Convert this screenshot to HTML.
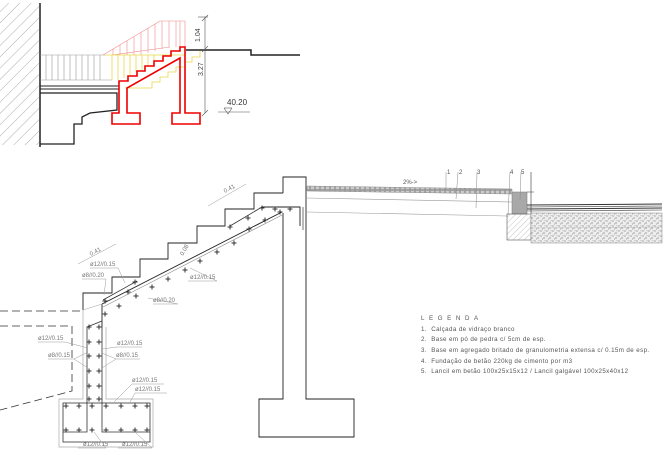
<!DOCTYPE html>
<html><head><meta charset="utf-8"><style>
html,body{margin:0;padding:0;background:#fff;width:665px;height:455px;overflow:hidden}
svg{display:block}
text{font-family:"Liberation Sans",sans-serif}
</style></head><body>
<svg width="665" height="455" viewBox="0 0 665 455" xmlns="http://www.w3.org/2000/svg">
<defs>
<pattern id="h" width="8" height="8" patternUnits="userSpaceOnUse" patternTransform="rotate(45)"><line x1="0" y1="0" x2="0" y2="8" stroke="#888" stroke-width="0.7"/></pattern>
<pattern id="h2" width="4" height="4" patternUnits="userSpaceOnUse" patternTransform="rotate(45)"><line x1="0" y1="0" x2="0" y2="4" stroke="#999" stroke-width="0.6"/></pattern>
<pattern id="g" width="6" height="5" patternUnits="userSpaceOnUse"><rect width="6" height="5" fill="#eee"/><circle cx="1" cy="1" r="0.6" fill="#777"/><circle cx="4" cy="3" r="0.6" fill="#666"/><circle cx="2.5" cy="4" r="0.5" fill="#888"/><circle cx="5" cy="0.8" r="0.5" fill="#999"/></pattern>
<pattern id="pv" width="5" height="5" patternUnits="userSpaceOnUse"><rect width="5" height="5" fill="#999"/><rect x="0.8" y="0.8" width="3.4" height="3.4" fill="#ccc"/></pattern>
<g id="p"><line x1="-2.5" y1="0" x2="2.5" y2="0" stroke="#333" stroke-width="1"/><line x1="0" y1="-2.5" x2="0" y2="2.5" stroke="#333" stroke-width="1"/></g>
</defs>

<rect x="0" y="3" width="39" height="142" fill="url(#h)"/>
<line x1="40" y1="3" x2="40" y2="147" stroke="#222" stroke-width="1.5"/>
<g stroke="#999" stroke-width="0.6">
<line x1="40" y1="55" x2="105" y2="55"/><line x1="40" y1="80" x2="112" y2="80"/>
<line x1="46" y1="55" x2="46" y2="80"/><line x1="52" y1="55" x2="52" y2="80"/><line x1="58" y1="55" x2="58" y2="80"/><line x1="64" y1="55" x2="64" y2="80"/><line x1="70" y1="55" x2="70" y2="80"/><line x1="76" y1="55" x2="76" y2="80"/><line x1="82" y1="55" x2="82" y2="80"/><line x1="88" y1="55" x2="88" y2="80"/><line x1="94" y1="55" x2="94" y2="80"/><line x1="100" y1="55" x2="100" y2="80"/>
</g>
<g stroke="#f08a8a" stroke-width="0.6" fill="none">
<polyline points="103,55 160,21 185,21 185,47"/><line x1="112" y1="55" x2="170" y2="47"/>
<line x1="113" y1="49" x2="113" y2="55"/><line x1="120" y1="45" x2="120" y2="55"/><line x1="127" y1="41" x2="127" y2="55"/><line x1="134" y1="37" x2="134" y2="55"/><line x1="141" y1="32" x2="141" y2="55"/><line x1="148" y1="28" x2="148" y2="53"/><line x1="155" y1="24" x2="155" y2="51"/><line x1="162" y1="21" x2="162" y2="49"/><line x1="169" y1="21" x2="169" y2="47"/><line x1="176" y1="21" x2="176" y2="47"/><line x1="180" y1="21" x2="180" y2="47"/>
</g>
<g stroke="#e8d84a" stroke-width="0.8" fill="none">
<polyline points="105,55 185,55"/>
<polyline points="125,88 152,88 152,82 160,82 160,77 168,77 168,72 176,72 176,67 185,67 185,62 192,62 192,57 200,57 200,51"/>
<line x1="112" y1="55" x2="112" y2="80"/><line x1="118" y1="55" x2="118" y2="80"/><line x1="124" y1="55" x2="124" y2="78"/><line x1="130" y1="55" x2="130" y2="75"/><line x1="136" y1="55" x2="136" y2="72"/><line x1="142" y1="55" x2="142" y2="70"/><line x1="148" y1="55" x2="148" y2="67"/><line x1="154" y1="55" x2="154" y2="64"/>
</g>
<g stroke="#222" stroke-width="1" fill="none">
<line x1="40" y1="86" x2="119" y2="86"/><line x1="40" y1="89" x2="119" y2="89"/>
<polyline points="40,93 117,93 117,110 90,113 82,117 82,124 74,124 74,144 40,144" stroke-width="1.3"/>
<polyline points="186,50 251,50 251,55 300,55" stroke-width="1.5"/>
</g>
<polyline fill="none" stroke="#e00" stroke-width="1.6" points="119,87 119,81 128,81 128,76 137,76 137,71 145,71 145,66 154,66 154,61 163,61 163,56 171,56 171,51 180,51 180,47 185,47 185,113 200,113 200,124 172,124 172,113 180,113 180,58 127,88 127,113 140,113 140,124 112,124 112,113 119,113 119,87"/>
<g stroke="#555" stroke-width="0.6" fill="none">
<line x1="205" y1="17" x2="205" y2="113"/><line x1="198" y1="17" x2="208" y2="17"/>
<line x1="202" y1="21" x2="208" y2="15"/><line x1="202" y1="52" x2="208" y2="46"/><line x1="202" y1="116" x2="208" y2="110"/>
<line x1="218" y1="112" x2="250" y2="112"/><polyline points="224,108 228,114 232,108"/><line x1="224" y1="108" x2="232" y2="108"/>
</g>
<text x="0" y="0" font-size="7" fill="#444" transform="translate(200,42) rotate(-90)">1.04</text>
<text x="0" y="0" font-size="7" fill="#444" transform="translate(203,76) rotate(-90)">3.27</text>
<text x="227" y="105" font-size="8" fill="#333">40.20</text>

<g stroke="#222" stroke-width="0.9" fill="none">
<polyline points="83,310 83,293 112,293 112,277 140,277 140,259 168,259 168,243 197,243 197,226 225,226 225,209 254,209 254,193 283,193"/>
<polyline points="283,193 283,177 306,177 306,399 354,399 354,437 259,437 259,399 283,399 283,213"/>
<line x1="102" y1="304" x2="282" y2="212"/>
<line x1="103" y1="307" x2="282" y2="215" stroke="#888" stroke-width="0.6"/>
<polyline points="102,304 102,327"/>
<polyline points="262,207 300,207 300,226"/>
<line x1="303" y1="207" x2="303" y2="230" stroke="#666"/>
</g>
<g fill="none">
<polyline points="83,310 83,399 59,399 59,447 153,447 153,399 106,399 106,327" stroke="#aaa" stroke-width="0.7"/>
<line x1="83" y1="310" x2="102" y2="304" stroke="#aaa" stroke-width="0.6"/>
<rect x="63" y="403" width="87" height="39" stroke="#333" stroke-width="0.8"/>
<polyline points="87,327 87,432 63,432" stroke="#333" stroke-width="0.8"/>
<polyline points="102,327 102,432 150,432" stroke="#333" stroke-width="0.8"/>
<line x1="87" y1="327" x2="102" y2="321" stroke="#333" stroke-width="0.8"/>
<line x1="103" y1="300" x2="137" y2="281" stroke="#333" stroke-width="0.8"/>
<line x1="230" y1="226" x2="262" y2="207" stroke="#333" stroke-width="0.8"/>
</g>
<g stroke="#333" stroke-width="0.8" fill="none" stroke-dasharray="8,4">
<line x1="0" y1="311" x2="83" y2="311"/>
<polyline points="0,326 72,326 72,391 0,410"/>
</g>
<g>
<use href="#p" x="89" y="327"/><use href="#p" x="99" y="327"/><use href="#p" x="89" y="342"/><use href="#p" x="99" y="342"/><use href="#p" x="89" y="356"/><use href="#p" x="99" y="356"/><use href="#p" x="89" y="371"/><use href="#p" x="99" y="371"/><use href="#p" x="89" y="386"/><use href="#p" x="99" y="386"/><use href="#p" x="89" y="399"/><use href="#p" x="99" y="399"/>
<use href="#p" x="66" y="406"/><use href="#p" x="79" y="406"/><use href="#p" x="92" y="406"/><use href="#p" x="106" y="406"/><use href="#p" x="121" y="406"/><use href="#p" x="135" y="406"/><use href="#p" x="147" y="406"/>
<use href="#p" x="66" y="430"/><use href="#p" x="79" y="430"/><use href="#p" x="92" y="430"/><use href="#p" x="106" y="430"/><use href="#p" x="121" y="430"/><use href="#p" x="135" y="430"/><use href="#p" x="147" y="430"/>
<use href="#p" x="105" y="301"/><use href="#p" x="105" y="314"/><use href="#p" x="119" y="306"/><use href="#p" x="128" y="292"/><use href="#p" x="135" y="282"/><use href="#p" x="136" y="296"/><use href="#p" x="152" y="287"/><use href="#p" x="168" y="279"/><use href="#p" x="185" y="270"/><use href="#p" x="200" y="261"/><use href="#p" x="217" y="252"/><use href="#p" x="234" y="243"/><use href="#p" x="249" y="229"/><use href="#p" x="265" y="220"/><use href="#p" x="230" y="227"/><use href="#p" x="248" y="218"/><use href="#p" x="262" y="208"/><use href="#p" x="275" y="209"/><use href="#p" x="280" y="212"/><use href="#p" x="290" y="209"/>
</g>
<g stroke="#999" stroke-width="0.5" fill="none">
<polyline points="90,268 118,268 125,283"/><polyline points="82,279 106,279 104,295"/><polyline points="188,281 217,281 190,268"/><polyline points="153,304 178,304 148,298"/>
<polyline points="38,342 65,342 88,348"/><polyline points="48,359 74,359 88,352"/><polyline points="74,359 88,368"/>
<polyline points="142,347 117,347 102,349"/><polyline points="140,359 116,359 102,353"/><polyline points="116,359 102,368"/>
<polyline points="164,384 132,384 114,402"/><polyline points="167,393 135,393 130,402"/>
<polyline points="78,448 106,448 94,432"/><polyline points="118,448 152,448 135,432"/>
<line x1="78" y1="264" x2="116" y2="244"/><line x1="208" y1="206" x2="246" y2="184"/>
</g>
<g font-size="6" fill="#777">
<text x="90" y="266">ø12//0.15</text>
<text x="82" y="277">ø8//0.20</text>
<text x="190" y="279">ø12//0.15</text>
<text x="153" y="302">ø8//0.20</text>
<text x="38" y="340">ø12//0.15</text>
<text x="48" y="357">ø8//0.15</text>
<text x="117" y="345">ø12//0.15</text>
<text x="116" y="357">ø8//0.15</text>
<text x="132" y="382">ø12//0.15</text>
<text x="135" y="391">ø12//0.15</text>
<text x="83" y="446">ø12//0.15</text>
<text x="122" y="446">ø12//0.15</text>
<text transform="translate(91,256) rotate(-28)">0.41</text>
<text transform="translate(225,193) rotate(-28)">0.41</text>
<text transform="translate(183,256) rotate(-60)">0.08</text>
</g>

<polygon points="307,186 512,189 512,194 307,191" fill="url(#pv)" stroke="#888" stroke-width="0.5"/>
<g stroke="#999" stroke-width="0.6" fill="none">
<line x1="307" y1="198" x2="512" y2="202"/>
<line x1="307" y1="212" x2="507" y2="216"/>
</g>
<rect x="512" y="192" width="15" height="22" fill="#a8a8a8" stroke="#777" stroke-width="0.5"/>
<rect x="507" y="214" width="24" height="26" fill="url(#h2)" stroke="#555" stroke-width="0.6"/>
<rect x="531" y="213" width="131" height="30" fill="url(#g)" stroke="#888" stroke-width="0.5"/>
<line x1="531" y1="228" x2="662" y2="227" stroke="#bbb" stroke-width="0.5"/>
<g stroke="#333" fill="none">
<line x1="527" y1="205" x2="662" y2="204" stroke-width="1"/>
<line x1="527" y1="207" x2="662" y2="206" stroke-width="0.6"/>
<line x1="527" y1="209" x2="662" y2="208" stroke-width="1"/>
<line x1="527" y1="211" x2="662" y2="210" stroke-width="0.6"/>
<line x1="531" y1="172" x2="531" y2="213" stroke-width="0.6"/>
<line x1="527" y1="192" x2="534" y2="192" stroke-width="0.5"/>
</g>
<g stroke="#888" stroke-width="0.5" fill="none">
<line x1="446" y1="172" x2="446" y2="190"/><line x1="458" y1="172" x2="456" y2="199"/><line x1="477" y1="172" x2="476" y2="208"/><line x1="510" y1="172" x2="508" y2="215"/><line x1="521" y1="172" x2="520" y2="200"/>
</g>
<g font-size="6" fill="#555">
<text x="447" y="174">1</text><text x="459" y="174">2</text><text x="477" y="174">3</text><text x="510" y="174">4</text><text x="521" y="174">5</text>
<text x="403" y="184">2%-&gt;</text>
</g>

<g font-size="6.2" fill="#555" letter-spacing="0.4">
<text x="421" y="320" letter-spacing="4.6">LEGENDA</text>
<text x="421" y="331">1.&#160;&#160;Calçada de vidraço branco</text>
<text x="421" y="341">2.&#160;&#160;Base em pó de pedra c/ 5cm de esp.</text>
<text x="421" y="352">3.&#160;&#160;Base em agregado britado de granulometria extensa c/ 0.15m de esp.</text>
<text x="421" y="363">4.&#160;&#160;Fundação de betão 220kg de cimento por m3</text>
<text x="421" y="373">5.&#160;&#160;Lancil em betão 100x25x15x12 / Lancil galgável 100x25x40x12</text>
</g>
</svg>
</body></html>
